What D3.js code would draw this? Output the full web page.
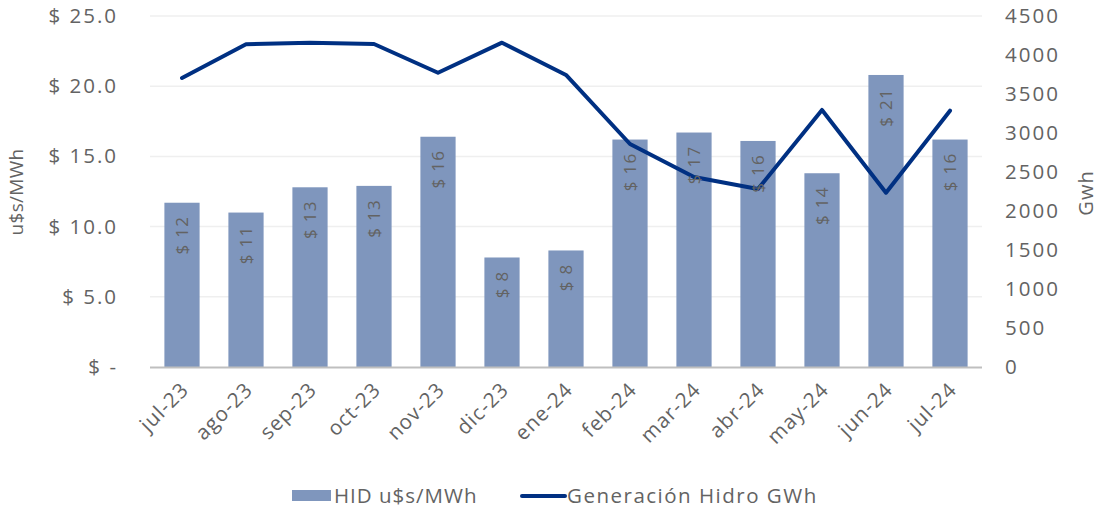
<!DOCTYPE html>
<html><head><meta charset="utf-8">
<script src="https://cdn.jsdelivr.net/npm/d3@7"></script>
<style>
body{margin:0;background:#fff;}
text{font-family:"Open Sans",sans-serif;fill:#636363;letter-spacing:1px;}
</style></head>
<body><svg id="c" width="1101" height="515"></svg>
<script>
const categories=["jul-23","ago-23","sep-23","oct-23","nov-23","dic-23","ene-24","feb-24","mar-24","abr-24","may-24","jun-24","jul-24"];
const hidPrice=[11.7,11.0,12.8,12.9,16.4,7.8,8.3,16.2,16.7,16.1,13.8,20.8,16.2];
const hidroGen=[3705,4137,4158,4141,3773,4158,3744,2859,2436,2282,3295,2235,3286];
const leftTicks=[0,5,10,15,20,25];
const rightTicks=[0,500,1000,1500,2000,2500,3000,3500,4000,4500];

const svg=d3.select("#c");
const L=150,R=982,T=16,B=367;
const x=d3.scaleBand().domain(categories).range([L,R]).paddingInner(0.45).paddingOuter(0.225);
const yL=d3.scaleLinear().domain([0,25]).range([B,T]);
const yR=d3.scaleLinear().domain([0,4500]).range([B,T]);

// gridlines
svg.append("g").selectAll("line").data(leftTicks.filter(d=>d>0)).join("line")
 .attr("x1",L).attr("x2",R).attr("y1",d=>yL(d)).attr("y2",d=>yL(d))
 .attr("stroke","#efefef").attr("stroke-width",1.5);

// bars
svg.append("g").selectAll("rect").data(hidPrice).join("rect")
 .attr("x",(d,i)=>x(categories[i])).attr("width",x.bandwidth())
 .attr("y",d=>yL(d)).attr("height",d=>B-yL(d)).attr("fill","#7f96bd");

// baseline
svg.append("line").attr("x1",L).attr("x2",R).attr("y1",B+0.5).attr("y2",B+0.5)
 .attr("stroke","#bfbfbf").attr("stroke-width",2);

// line
const line=d3.line().x((d,i)=>x(categories[i])+x.bandwidth()/2).y(d=>yR(d));
svg.append("path").datum(hidroGen).attr("d",line).attr("fill","none")
 .attr("stroke","#003082").attr("stroke-width",4).attr("stroke-linejoin","round").attr("stroke-linecap","round");

// bar labels
svg.append("g").selectAll("text").data(hidPrice).join("text")
 .attr("transform",(d,i)=>`translate(${x(categories[i])+x.bandwidth()/2+6},${yL(d)+13}) rotate(-90)`)
 .attr("text-anchor","end").attr("font-size",17).style("letter-spacing","1.3px")
 .text(d=>"$ "+Math.round(d));

// left axis labels
svg.append("g").selectAll("text").data(leftTicks).join("text")
 .attr("x",118).attr("y",d=>yL(d)+7).attr("text-anchor","end").attr("font-size",20.5).style("letter-spacing","2px")
 .text(d=>d===0?"$ -":"$ "+d.toFixed(1));
// right axis labels
svg.append("g").selectAll("text").data(rightTicks).join("text")
 .attr("x",1005).attr("y",d=>yR(d)+7).attr("text-anchor","start").attr("font-size",20.5).style("letter-spacing","2px")
 .text(d=>d);

// axis titles
svg.append("text").attr("transform","translate(23,192) rotate(-90)").attr("text-anchor","middle").attr("font-size",19).style("letter-spacing","0.3px").text("u$s/MWh");
svg.append("text").attr("transform","translate(1093,193) rotate(-90)").attr("text-anchor","middle").attr("font-size",20).text("Gwh");

// x labels
svg.append("g").selectAll("text").data(categories).join("text")
 .attr("transform",d=>`translate(${x(d)+x.bandwidth()/2+8},${B+24}) rotate(-45)`)
 .attr("text-anchor","end").attr("font-size",20.5).text(d=>d);

// legend
const lg=svg.append("g");
lg.append("rect").attr("x",292).attr("y",490).attr("width",39).attr("height",11).attr("fill","#7f96bd");
lg.append("text").attr("x",334).attr("y",503).attr("font-size",20.5).text("HID u$s/MWh");
lg.append("line").attr("x1",522).attr("x2",565).attr("y1",496).attr("y2",496).attr("stroke","#003082").attr("stroke-width",4).attr("stroke-linecap","round");
lg.append("text").attr("x",567).attr("y",503).attr("font-size",20.5).style("letter-spacing","1.5px").text("Generación Hidro GWh");
</script></body></html>
